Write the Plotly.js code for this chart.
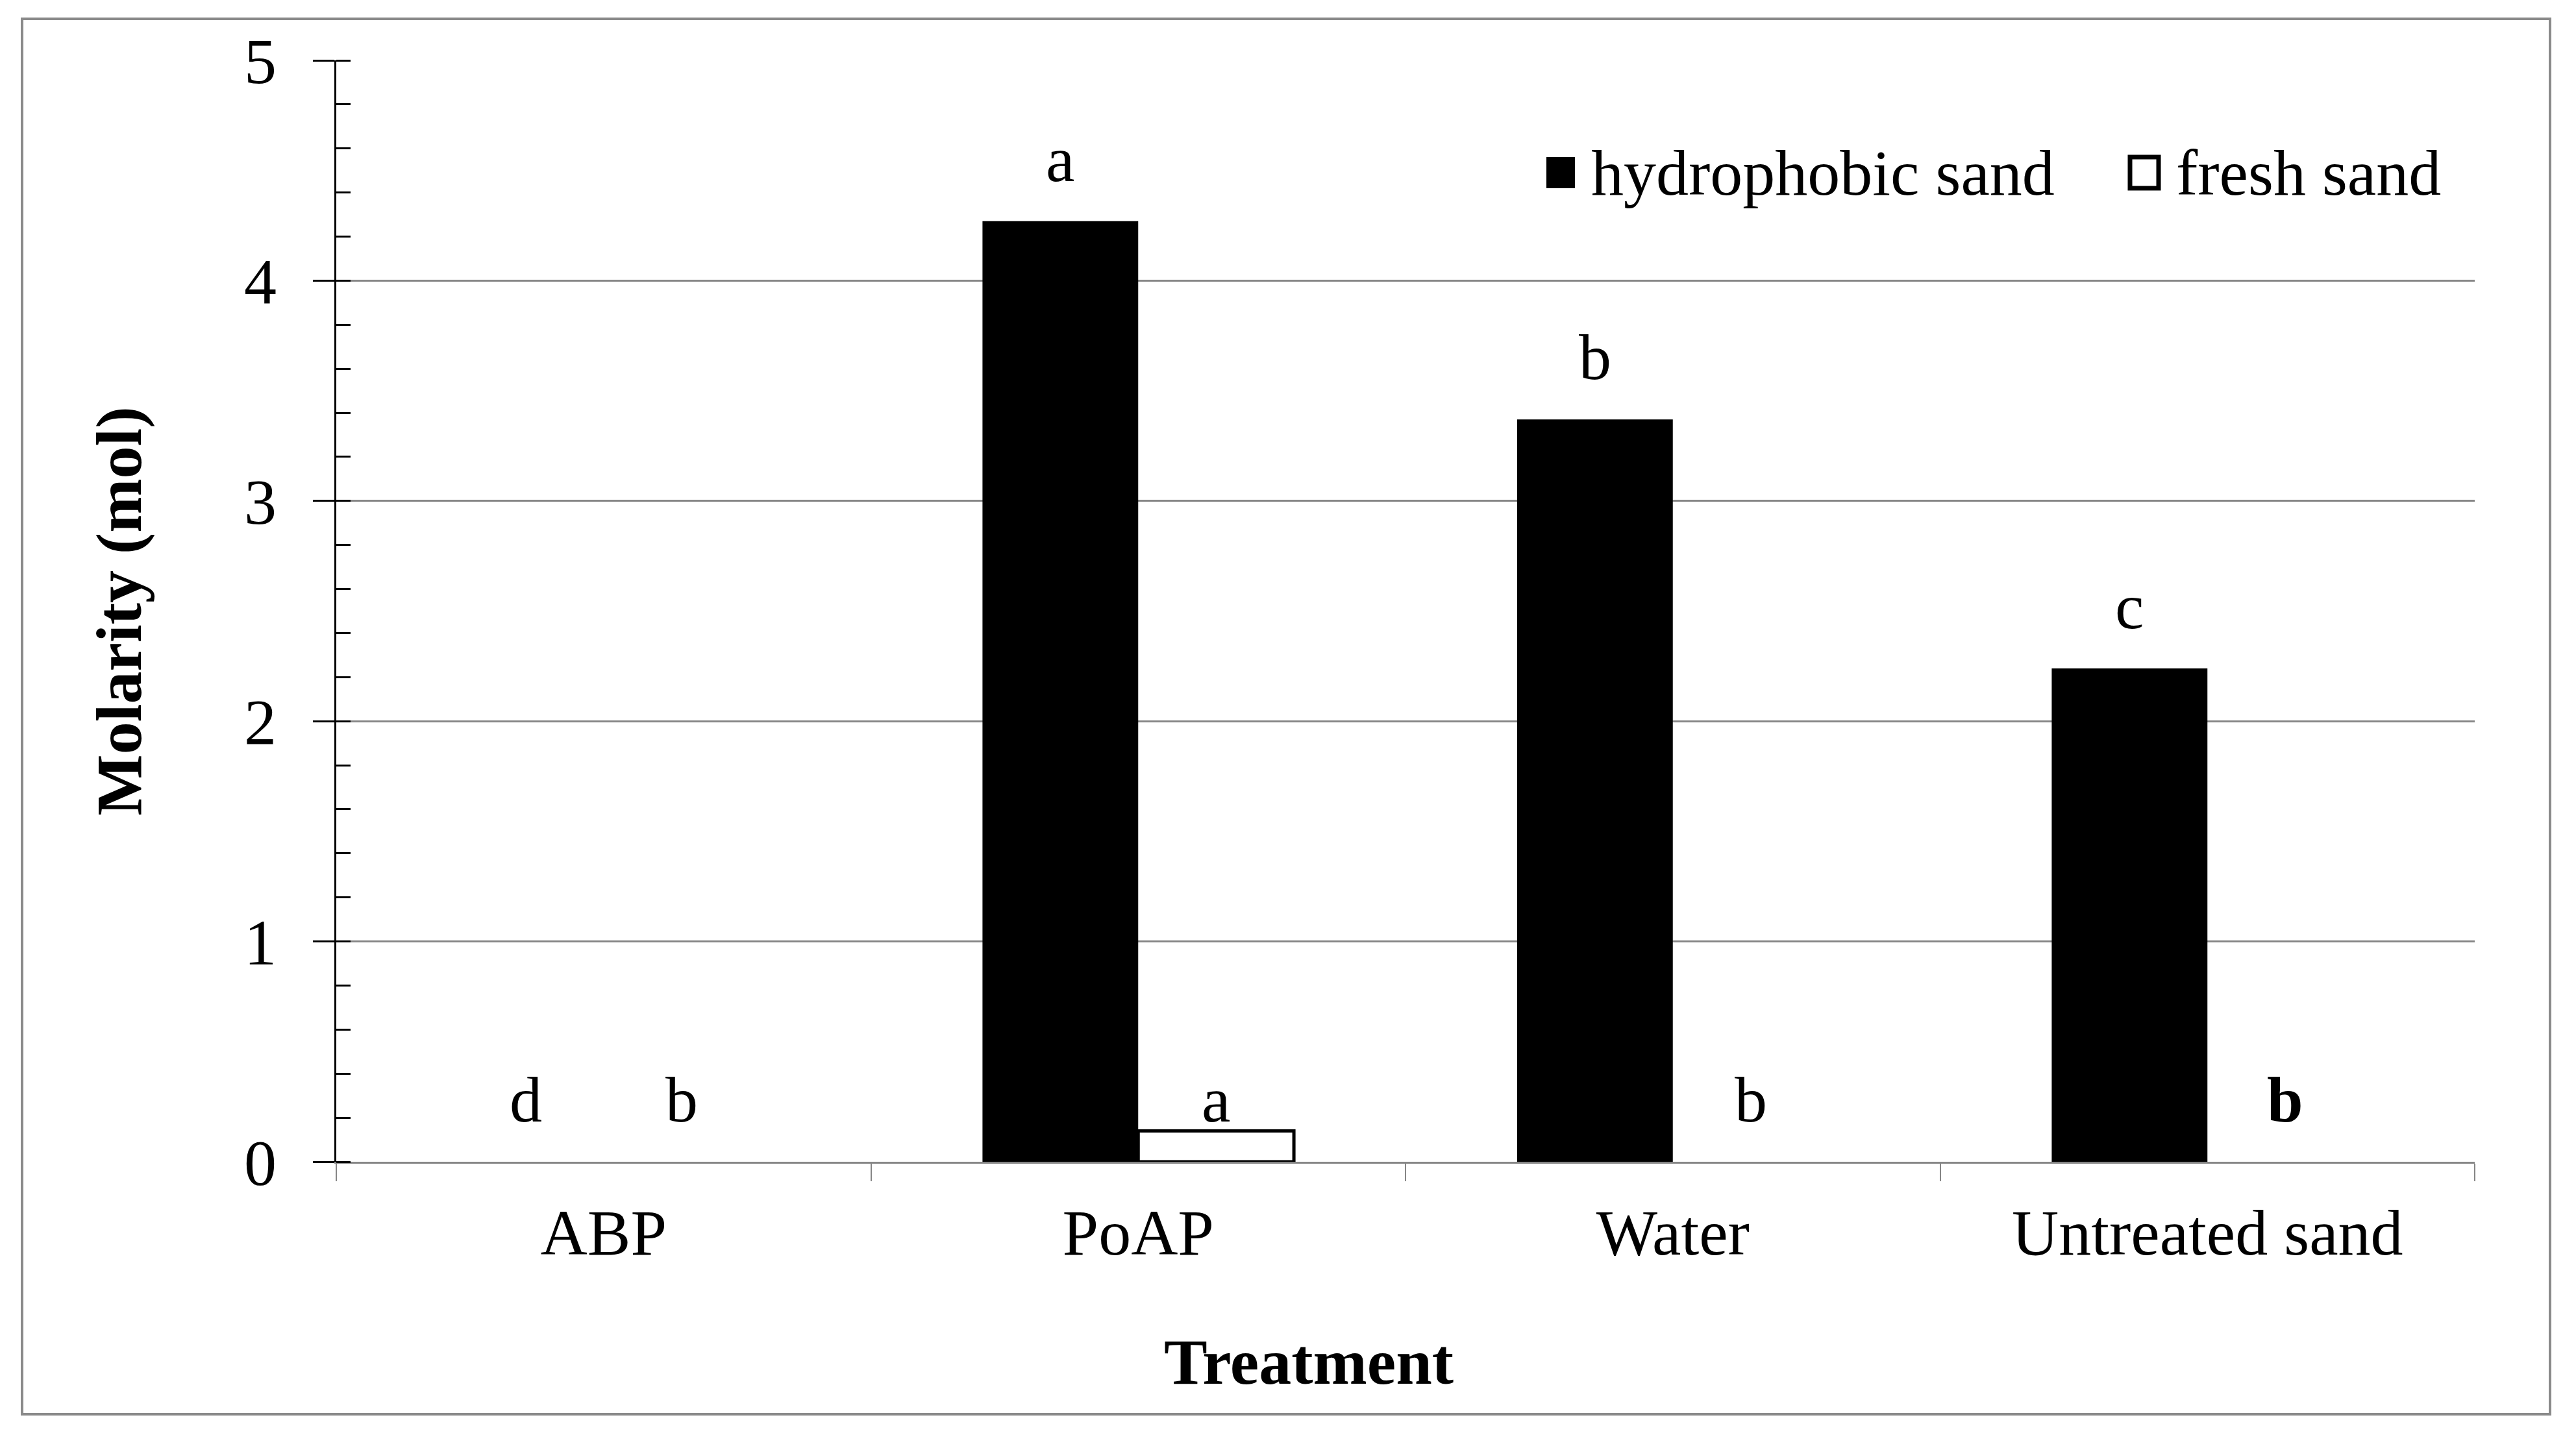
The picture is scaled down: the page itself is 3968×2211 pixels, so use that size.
<!DOCTYPE html>
<html>
<head>
<meta charset="utf-8">
<script src="https://cdn.plot.ly/plotly-3.0.1.min.js"></script>
<style>html,body{margin:0;padding:0;background:#fff;}</style>
</head>
<body>
<div id="chart" style="width:3968px;height:2211px;"></div>
<script>
// ---- data ----
const categories = ['ABP', 'PoAP', 'Water', 'Untreated sand'];
const hydrophobic = [0, 4.27, 3.37, 2.24];
const fresh = [0, 0.14, 0, 0];
const hydroLetters = ['d', 'a', 'b', 'c'];
const freshLetters = ['b', 'a', 'b', '<b>b</b>'];
const seriesNames = ['hydrophobic sand', 'fresh sand'];
const yTicks = [0, 1, 2, 3, 4, 5];
const xTitle = 'Treatment';
const yTitle = 'Molarity (mol)';

// ---- layout geometry (pixels) ----
const W = 3968, H = 2211;
const L = 518, R = 3812, T = 93, B = 1790;
const pw = R - L, ph = B - T;
const px = v => (v - L) / pw;
const py = v => (B - v) / ph;
const FONT = 'Liberation Serif, Times New Roman, serif';
const GRAY = '#868686';
const bargap = 0.4175;
const off = (1 - bargap) / 4;

const traces = [
  {
    type: 'bar', name: seriesNames[0], x: categories, y: hydrophobic,
    marker: { color: '#000000', line: { width: 0 } }, showlegend: false
  },
  {
    type: 'bar', name: seriesNames[1], x: categories, y: fresh,
    marker: { color: '#ffffff', line: { color: '#000000', width: fresh.map(v => v > 0 ? 5 : 0) } },
    showlegend: false
  }
];

const annotations = [];
categories.forEach((c, i) => {
  annotations.push({
    xref: 'x', yref: 'y', x: i - off, y: hydrophobic[i], text: hydroLetters[i],
    showarrow: false, yanchor: 'bottom', yshift: 38,
    font: { family: FONT, size: 100, color: '#000' }
  });
  annotations.push({
    xref: 'x', yref: 'y', x: i + off, y: 0, text: freshLetters[i],
    showarrow: false, yanchor: 'bottom', yshift: 38,
    font: { family: FONT, size: 100, color: '#000' }
  });
});
// x title
annotations.push({
  xref: 'paper', yref: 'paper', x: px(2016), y: py(2098), text: '<b>' + xTitle + '</b>',
  showarrow: false, xanchor: 'center', yanchor: 'middle',
  font: { family: FONT, size: 100, color: '#000' }
});
// legend texts
const legendItems = [
  { sx: 2404, tx: 2449, fill: '#000000' },
  { sx: 3303, tx: 3350, fill: '#ffffff' }
];
const shapes = [];
legendItems.forEach((it, k) => {
  annotations.push({
    xref: 'paper', yref: 'paper', x: px(it.tx), y: py(266), text: seriesNames[k],
    showarrow: false, xanchor: 'left', yanchor: 'middle',
    font: { family: FONT, size: 100, color: '#000' }
  });
  shapes.push({
    type: 'rect', xref: 'paper', yref: 'paper',
    x0: px(it.sx - 22), x1: px(it.sx + 22), y0: py(290), y1: py(242),
    fillcolor: it.fill, line: { color: '#000', width: k === 0 ? 0 : 7 }
  });
});
// outer border
shapes.push({
  type: 'rect', xref: 'paper', yref: 'paper',
  x0: px(34), x1: px(3928), y0: py(2179), y1: py(29),
  line: { color: '#8a8a8a', width: 4 }, fillcolor: 'rgba(0,0,0,0)', layer: 'below'
});

const layout = {
  width: W, height: H,
  margin: { l: L, r: W - R, t: T, b: H - B, pad: 0 },
  paper_bgcolor: '#ffffff', plot_bgcolor: '#ffffff',
  bargap: bargap, bargroupgap: 0, barmode: 'group',
  font: { family: FONT, size: 100, color: '#000' },
  xaxis: {
    type: 'category', tickson: 'boundaries', ticks: 'outside', ticklen: 27, tickwidth: 2,
    tickcolor: GRAY, showline: true, linecolor: GRAY, linewidth: 3, showgrid: false,
    zeroline: false, tickfont: { family: FONT, size: 100, color: '#000' },
    ticklabelstandoff: 20
  },
  xaxis2: {
    overlaying: 'x', anchor: 'y', side: 'bottom', type: 'linear', range: [-0.5, categories.length - 0.5],
    tickvals: categories.map((c, i) => i).concat([categories.length - 0.5]),
    ticks: 'inside', ticklen: 27, tickwidth: 2, tickcolor: GRAY,
    showticklabels: false, showgrid: false, showline: false, zeroline: false
  },
  yaxis: {
    range: [0, 5], tickvals: yTicks, ticks: 'outside', ticklen: 33, tickwidth: 3, tickcolor: '#000',
    showline: true, linecolor: '#000', linewidth: 3, showgrid: true, gridcolor: GRAY, gridwidth: 3,
    zeroline: false, tickfont: { family: FONT, size: 100, color: '#000' },
    ticklabelstandoff: 36,
    minor: { dtick: 0.2, ticks: 'inside', ticklen: 22, tickwidth: 3, tickcolor: '#000', showgrid: false },
    title: { text: '<b>' + yTitle + '</b>', standoff: 126, font: { family: FONT, size: 100, color: '#000' } }
  },
  yaxis2: {
    overlaying: 'y', anchor: 'x', side: 'left', range: [0, 5], tickvals: yTicks,
    ticks: 'inside', ticklen: 22, tickwidth: 3, tickcolor: '#000',
    showticklabels: false, showgrid: false, showline: false, zeroline: false
  },
  annotations: annotations,
  shapes: shapes,
  showlegend: false
};

Plotly.newPlot('chart', traces, layout, { displayModeBar: false, staticPlot: true });
</script>
</body>
</html>
